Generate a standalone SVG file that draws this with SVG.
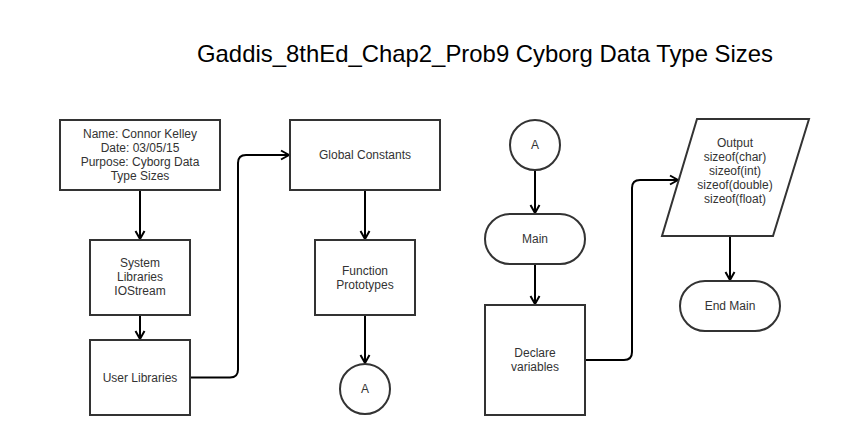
<svg xmlns="http://www.w3.org/2000/svg" width="853" height="435" viewBox="0 0 853 435">
<defs>
<style>
.shape{fill:#fff;stroke:#333;stroke-width:2}
.t{font-family:"Liberation Sans",Arial,sans-serif;font-size:12px;fill:#333;text-anchor:middle}
.title{font-family:"Liberation Sans",Arial,sans-serif;font-size:24px;fill:#000}
.conn{fill:none;stroke:#000;stroke-width:2}
</style>
<marker id="arr" markerUnits="userSpaceOnUse" markerWidth="12" markerHeight="12" viewBox="0 0 12 12" refX="10" refY="6" orient="auto">
<path d="M2,1.5 L10,6 L2,10.5" fill="none" stroke="#000" stroke-width="2"/>
</marker>
</defs>
<rect width="853" height="435" fill="#fff"/>
<text class="title" x="197" y="62" textLength="576" lengthAdjust="spacingAndGlyphs">Gaddis_8thEd_Chap2_Prob9 Cyborg Data Type Sizes</text>
<g id="connectors">
<path class="conn" d="M140,190 L140,239" marker-end="url(#arr)"/>
<path class="conn" d="M140,315 L140,339" marker-end="url(#arr)"/>
<path class="conn" d="M190,377.5 L230,377.5 Q238,377.5 238,369.5 L238,163 Q238,155 246,155 L289,155" marker-end="url(#arr)"/>
<path class="conn" d="M365,190 L365,239" marker-end="url(#arr)"/>
<path class="conn" d="M365,315 L365,363" marker-end="url(#arr)"/>
<path class="conn" d="M535,170 L535,213" marker-end="url(#arr)"/>
<path class="conn" d="M535,264 L535,304" marker-end="url(#arr)"/>
<path class="conn" d="M585,360 L624,360 Q632,360 632,352 L632,188 Q632,180 640,180 L678,180" marker-end="url(#arr)"/>
<path class="conn" d="M730,236 L730,280" marker-end="url(#arr)"/>
</g>
<g id="header">
<rect class="shape" x="60" y="120" width="160" height="70"/>
<text class="t" x="140" y="138">Name: Connor Kelley</text>
<text class="t" x="140" y="152">Date: 03/05/15</text>
<text class="t" x="140" y="166">Purpose: Cyborg Data</text>
<text class="t" x="140" y="180">Type Sizes</text>
</g>
<g id="syslib">
<rect class="shape" x="90" y="240" width="100" height="75"/>
<text class="t" x="140" y="267">System</text>
<text class="t" x="140" y="281">Libraries</text>
<text class="t" x="140" y="295">IOStream</text>
</g>
<g id="userlib">
<rect class="shape" x="90" y="340" width="100" height="75"/>
<text class="t" x="140" y="381.5">User Libraries</text>
</g>
<g id="globals">
<rect class="shape" x="290" y="120" width="150" height="70"/>
<text class="t" x="365" y="159">Global Constants</text>
</g>
<g id="protos">
<rect class="shape" x="315" y="240" width="100" height="75"/>
<text class="t" x="365" y="275">Function</text>
<text class="t" x="365" y="289">Prototypes</text>
</g>
<g id="connA1">
<circle class="shape" cx="365" cy="389" r="25"/>
<text class="t" x="365" y="393">A</text>
</g>
<g id="connA2">
<circle class="shape" cx="535" cy="145" r="25"/>
<text class="t" x="535" y="149">A</text>
</g>
<g id="main">
<rect class="shape" x="485" y="214" width="100" height="50" rx="25" ry="25"/>
<text class="t" x="535" y="243">Main</text>
</g>
<g id="declare">
<rect class="shape" x="485" y="305" width="100" height="110"/>
<text class="t" x="535" y="357">Declare</text>
<text class="t" x="535" y="371">variables</text>
</g>
<g id="output">
<polygon class="shape" points="697,119 809,119 773,236 662,236"/>
<text class="t" x="735" y="147">Output</text>
<text class="t" x="735" y="161">sizeof(char)</text>
<text class="t" x="735" y="175">sizeof(int)</text>
<text class="t" x="735" y="189">sizeof(double)</text>
<text class="t" x="735" y="203">sizeof(float)</text>
</g>
<g id="endmain">
<rect class="shape" x="680" y="281" width="100" height="50" rx="25" ry="25"/>
<text class="t" x="730" y="310">End Main</text>
</g>
</svg>
